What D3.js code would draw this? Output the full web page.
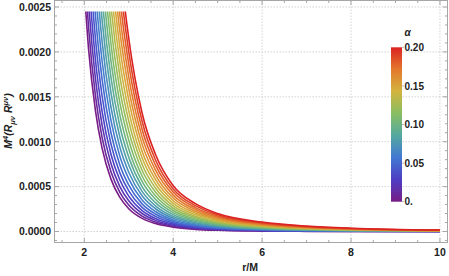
<!DOCTYPE html>
<html><head><meta charset="utf-8">
<script src="https://cdn.jsdelivr.net/npm/d3@7"></script>
<style>
html,body{margin:0;padding:0;background:#fff;}
svg{display:block;font-family:"Liberation Sans",Arial,sans-serif;}
</style></head>
<body>
<svg id="chart" width="449" height="276"></svg>
<script>
// r/M sample positions shared by all curves
const rGrid = [1.95, 2.1, 2.25, 2.4, 2.6, 2.8, 3.0, 3.3, 3.6, 4.0, 4.5, 5, 6, 7, 8, 10];
// alpha of each curve
const alphas = [0, 0.01, 0.02, 0.03, 0.04, 0.05, 0.06, 0.07, 0.08, 0.09, 0.10,
                0.11, 0.12, 0.13, 0.14, 0.15, 0.16, 0.17, 0.18, 0.19, 0.20];
// M^4 (R_mu nu R^mu nu) read at rGrid, in units of 1e-4, one row per alpha
const curveValues = [
 [30.94, 20.12, 13.49, 9.277, 5.831, 3.793, 2.541, 1.462, 0.883, 0.479, 0.242, 0.131, 0.0456, 0.0187, 0.0086, 0.0024],
 [34.45, 22.50, 15.16, 10.48, 6.641, 4.360, 2.951, 1.716, 1.050, 0.579, 0.304, 0.171, 0.067, 0.031, 0.016, 0.006],
 [38.46, 25.21, 17.06, 11.85, 7.564, 5.006, 3.418, 2.004, 1.240, 0.693, 0.374, 0.217, 0.092, 0.046, 0.025, 0.010],
 [42.95, 28.25, 19.18, 13.39, 8.599, 5.730, 3.942, 2.328, 1.453, 0.820, 0.453, 0.269, 0.120, 0.062, 0.035, 0.014],
 [47.91, 31.61, 21.54, 15.09, 9.742, 6.531, 4.521, 2.686, 1.688, 0.961, 0.540, 0.326, 0.150, 0.080, 0.046, 0.019],
 [53.38, 35.32, 24.13, 16.96, 11.00, 7.413, 5.158, 3.081, 1.947, 1.116, 0.636, 0.389, 0.184, 0.100, 0.058, 0.025],
 [59.31, 39.34, 26.95, 18.99, 12.37, 8.371, 5.851, 3.509, 2.229, 1.285, 0.740, 0.457, 0.221, 0.122, 0.072, 0.030],
 [65.76, 43.70, 30.00, 21.20, 13.86, 9.411, 6.603, 3.974, 2.534, 1.468, 0.854, 0.531, 0.260, 0.145, 0.086, 0.037],
 [72.67, 48.39, 33.28, 23.56, 15.45, 10.53, 7.409, 4.473, 2.862, 1.664, 0.975, 0.610, 0.303, 0.170, 0.101, 0.044],
 [80.08, 53.40, 36.79, 26.10, 17.16, 11.72, 8.273, 5.007, 3.214, 1.875, 1.105, 0.695, 0.349, 0.197, 0.118, 0.051],
 [87.97, 58.75, 40.53, 28.80, 18.97, 12.99, 9.193, 5.576, 3.588, 2.099, 1.244, 0.786, 0.398, 0.226, 0.135, 0.059],
 [96.35, 64.42, 44.51, 31.67, 20.91, 14.35, 10.17, 6.181, 3.985, 2.337, 1.391, 0.882, 0.449, 0.256, 0.154, 0.067],
 [105.2, 70.43, 48.71, 34.70, 22.95, 15.78, 11.21, 6.820, 4.406, 2.589, 1.547, 0.984, 0.504, 0.288, 0.173, 0.076],
 [114.6, 76.76, 53.15, 37.90, 25.11, 17.28, 12.30, 7.495, 4.850, 2.854, 1.711, 1.092, 0.562, 0.322, 0.194, 0.085],
 [124.4, 83.42, 57.81, 41.27, 27.37, 18.87, 13.44, 8.204, 5.316, 3.133, 1.884, 1.205, 0.622, 0.358, 0.216, 0.095],
 [134.7, 90.42, 62.71, 44.80, 29.75, 20.54, 14.65, 8.950, 5.806, 3.427, 2.065, 1.323, 0.686, 0.395, 0.239, 0.105],
 [145.5, 97.73, 67.83, 48.50, 32.24, 22.28, 15.91, 9.729, 6.318, 3.734, 2.255, 1.447, 0.753, 0.434, 0.263, 0.116],
 [156.8, 105.4, 73.20, 52.37, 34.85, 24.10, 17.23, 10.54, 6.854, 4.055, 2.454, 1.577, 0.822, 0.475, 0.288, 0.127],
 [168.6, 113.4, 78.78, 56.40, 37.56, 26.00, 18.60, 11.39, 7.413, 4.389, 2.660, 1.713, 0.895, 0.518, 0.314, 0.139],
 [180.9, 121.7, 84.60, 60.60, 40.39, 27.98, 20.03, 12.28, 7.995, 4.738, 2.876, 1.853, 0.971, 0.562, 0.341, 0.151],
 [193.6, 130.3, 90.65, 64.97, 43.33, 30.04, 21.52, 13.20, 8.600, 5.100, 3.100, 2.000, 1.050, 0.609, 0.370, 0.163]
];
const valueUnit = 1e-4;
const plotMax = 0.00245;       // curves are cut at this level
const xTicks = [2, 4, 6, 8, 10];
const xTickLabels = ["2", "4", "6", "8", "10"];
const yTicks = [0, 0.0005, 0.001, 0.0015, 0.002, 0.0025];
const yTickLabels = ["0.0000", "0.0005", "0.0010", "0.0015", "0.0020", "0.0025"];
const legendTicks = [0, 0.05, 0.10, 0.15, 0.20];
const legendTickLabels = ["0.", "0.05", "0.10", "0.15", "0.20"];
// Rainbow colour scheme stops
const rainbowStops = ["#781c86", "#4e3ec4", "#4278d2", "#54a8a0", "#88be62", "#d2b43e", "#e4782d", "#db2222"];

const svg = d3.select("#chart");
const L = 54.5, R = 447.5, T = 0.5, B = 242.5;
const x = d3.scaleLinear().domain([1.33, 10.17]).range([L, R]);
const y = d3.scaleLinear().domain([-0.0001225, 0.0025725]).range([B, T]);
const color = d3.scaleLinear().domain(d3.range(rainbowStops.length).map(i => 0.2 * i / (rainbowStops.length - 1))).range(rainbowStops).interpolate(d3.interpolateRgb);

const frameCol = "#a6a6a6", gridCol = "#c8c8c8", textCol = "#222";

// gridlines
const grid = svg.append("g");
grid.selectAll(".gx").data(xTicks).join("line")
  .attr("x1", d => x(d)).attr("x2", d => x(d)).attr("y1", T).attr("y2", B)
  .attr("stroke", gridCol).attr("stroke-width", 0.8).attr("stroke-dasharray", "1.5,1.5");
grid.selectAll(".gy").data(yTicks).join("line")
  .attr("x1", L).attr("x2", R).attr("y1", d => y(d)).attr("y2", d => y(d))
  .attr("stroke", gridCol).attr("stroke-width", 0.8).attr("stroke-dasharray", "1.5,1.5");

// curves
const defs = svg.append("defs");
defs.append("clipPath").attr("id", "clip").append("rect")
  .attr("x", x(1.5)).attr("y", y(plotMax)).attr("width", x(10) - x(1.5)).attr("height", y(0) - y(plotMax) + 20);
const line = d3.line().x((d, i) => x(rGrid[i])).y(d => y(d * valueUnit)).curve(d3.curveMonotoneX);
svg.append("g").attr("clip-path", "url(#clip)")
  .selectAll("path").data(curveValues).join("path")
  .attr("d", d => line(d))
  .attr("fill", "none")
  .attr("stroke", (d, i) => color(alphas[i]))
  .attr("stroke-width", 1.6);

// frame
svg.append("rect").attr("x", L).attr("y", T).attr("width", R - L).attr("height", B - T)
  .attr("fill", "none").attr("stroke", frameCol).attr("stroke-width", 1);

// ticks (inward) on all four sides
const xMinor = d3.range(1.5, 10.01, 0.5).filter(v => xTicks.indexOf(v) < 0);
const yMinor = d3.range(-1, 26).map(v => v * 0.0001).filter(v => Math.abs(v * 2000 - Math.round(v * 2000)) > 1e-6);
const tk = svg.append("g").attr("stroke", frameCol).attr("stroke-width", 1);
function xt(vals, len) {
  vals.forEach(v => {
    tk.append("line").attr("x1", x(v)).attr("x2", x(v)).attr("y1", B).attr("y2", B - len);
    tk.append("line").attr("x1", x(v)).attr("x2", x(v)).attr("y1", T).attr("y2", T + len);
  });
}
function yt(vals, len) {
  vals.forEach(v => {
    tk.append("line").attr("y1", y(v)).attr("y2", y(v)).attr("x1", L).attr("x2", L + len);
    tk.append("line").attr("y1", y(v)).attr("y2", y(v)).attr("x1", R).attr("x2", R - len);
  });
}
xt(xTicks, 4.5); xt(xMinor, 2.5);
yt(yTicks, 4.5); yt(yMinor, 2.5);

// tick labels
svg.append("g").selectAll("text").data(xTicks).join("text")
  .attr("x", d => x(d)).attr("y", 256).attr("text-anchor", "middle")
  .attr("font-size", 10.5).attr("font-weight", "bold").attr("fill", textCol)
  .text((d, i) => xTickLabels[i]);
svg.append("g").selectAll("text").data(yTicks).join("text")
  .attr("x", 51).attr("y", d => y(d) + 3.8).attr("text-anchor", "end")
  .attr("font-size", 10.5).attr("font-weight", "bold").attr("fill", textCol)
  .text((d, i) => yTickLabels[i]);

// axis labels
svg.append("text").attr("x", 250).attr("y", 271).attr("text-anchor", "middle")
  .attr("font-size", 10.5).attr("font-weight", "bold").attr("fill", textCol).text("r/M");
const yl = svg.append("text").attr("transform", "translate(12,121) rotate(-90)")
  .attr("text-anchor", "middle").attr("font-size", 10.5).attr("font-weight", "bold")
  .attr("font-style", "italic").attr("fill", textCol);
yl.append("tspan").text("M");
yl.append("tspan").attr("dy", -4).attr("font-size", 7.5).text("4");
yl.append("tspan").attr("dy", 4).text("(R");
yl.append("tspan").attr("dy", 2.5).attr("font-size", 7.5).text("μν");
yl.append("tspan").attr("dy", -2.5).text(" R");
yl.append("tspan").attr("dy", -4).attr("font-size", 7.5).text("μν");
yl.append("tspan").attr("dy", 4).text(")");

// colour bar legend
const lgX = 391, lgW = 11, lgTop = 47.3, lgBot = 201.7;
const ly = d3.scaleLinear().domain([0, 0.2]).range([lgBot, lgTop]);
const grad = defs.append("linearGradient").attr("id", "lg").attr("x1", 0).attr("y1", 1).attr("x2", 0).attr("y2", 0);
rainbowStops.forEach((c, i) => grad.append("stop").attr("offset", i / (rainbowStops.length - 1)).attr("stop-color", c));
svg.append("rect").attr("x", lgX).attr("y", lgTop).attr("width", lgW).attr("height", lgBot - lgTop)
  .attr("fill", "url(#lg)");
svg.append("g").selectAll("line").data(legendTicks).join("line")
  .attr("x1", lgX + lgW).attr("x2", lgX + lgW + 2).attr("y1", d => ly(d)).attr("y2", d => ly(d))
  .attr("stroke", frameCol).attr("stroke-width", 0.8);
svg.append("g").selectAll("text").data(legendTicks).join("text")
  .attr("x", lgX + lgW + 2.5).attr("y", d => ly(d) + 3.6)
  .attr("font-size", 10).attr("font-weight", "bold").attr("fill", textCol)
  .text((d, i) => legendTickLabels[i]);
svg.append("text").attr("x", 404.5).attr("y", 36).attr("font-size", 10).attr("font-weight", "bold")
  .attr("font-style", "italic").attr("fill", textCol).text("α");
</script>
</body></html>
